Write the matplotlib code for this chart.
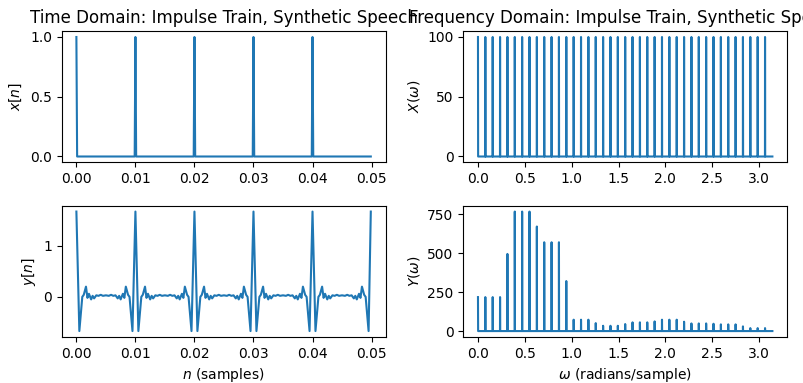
import numpy as np
import matplotlib
matplotlib.use("Agg")
import matplotlib.pyplot as plt

# Abtastrate und Laenge
fs = 8000
n_time = 400          # 0.05 s im Zeitbereich
n_fft = 8000          # 1 s fuer das Spektrum
period = 80           # Samples pro Periode (100 Hz)

# Impulszug: Positionen (Sekunden) und Hoehe
impulse_times = [0.00, 0.01, 0.02, 0.03, 0.04]
impulse_height = 1.0

# Synthetische Sprache: Eckpunkte einer Periode (Sample-Index, Wert)
period_n = [0, 4, 8, 10, 13, 15, 17, 20, 22, 24, 27, 30, 33, 36, 40,
            44, 47, 50, 53, 56, 58, 60, 63, 65, 67, 70, 72, 76]
period_y = [1.67, -0.67, 0.00, 0.04, 0.20, -0.02, 0.06, -0.05, 0.02, -0.03, 0.03, 0.02, 0.04, 0.02, 0.03,
            0.02, 0.04, 0.02, 0.03, -0.03, 0.02, -0.05, 0.06, -0.02, 0.20, 0.04, 0.00, -0.67]
end_value = 1.67

# Harmonische (Vielfache von 2*pi/80) und ihre Betraege
X_harm = [100] * 40
Y_harm = [218, 218, 218, 218, 495, 767, 767, 767, 671, 570,
          570, 570, 321, 73, 73, 73, 51, 34, 34, 34,
          45, 56, 56, 56, 62, 73, 73, 73, 60, 49,
          49, 49, 47, 43, 43, 43, 30, 19, 19, 19]

# Zeitachse
t = np.arange(n_time) / fs
x = np.zeros(n_time)
for ti in impulse_times:
    x[int(round(ti * fs))] = impulse_height

ty = []
yv = []
for p in range(n_time // period):
    for k, v in zip(period_n, period_y):
        ty.append((p * period + k) / fs)
        yv.append(v)
ty.append((n_time - 1) / fs)
yv.append(end_value)

# Frequenzachse 0..pi
bins = np.arange(n_fft // 2 + 1)
omega = 2 * np.pi * bins / n_fft
X = np.zeros(len(bins))
Y = np.zeros(len(bins))
step = n_fft // period
for k in range(len(X_harm)):
    X[k * step] = X_harm[k]
    Y[k * step] = Y_harm[k]

fig, axs = plt.subplots(2, 2, figsize=(8.04, 3.83), dpi=100)
fig.subplots_adjust(left=0.0767, right=0.979, top=0.919, bottom=0.12,
                    wspace=0.24, hspace=0.328)

axs[0, 0].plot(t, x)
axs[0, 0].set_title('Time Domain: Impulse Train, Synthetic Speech')
axs[0, 0].set_ylabel('$x[n]$')

axs[1, 0].plot(ty, yv)
axs[1, 0].set_ylabel('$y[n]$')
axs[1, 0].set_xlabel('$n$ (samples)')

axs[0, 1].plot(omega, X)
axs[0, 1].set_title('Frequency Domain: Impulse Train, Synthetic Speech')
axs[0, 1].set_ylabel(r'$X(\omega)$')

axs[1, 1].plot(omega, Y)
axs[1, 1].set_ylabel(r'$Y(\omega)$')
axs[1, 1].set_xlabel(r'$\omega$ (radians/sample)')

for ax in axs[:, 0]:
    ax.set_xticks([0.0, 0.01, 0.02, 0.03, 0.04, 0.05])
    ax.set_xticklabels(['0.00', '0.01', '0.02', '0.03', '0.04', '0.05'])

plt.savefig('out.png')
